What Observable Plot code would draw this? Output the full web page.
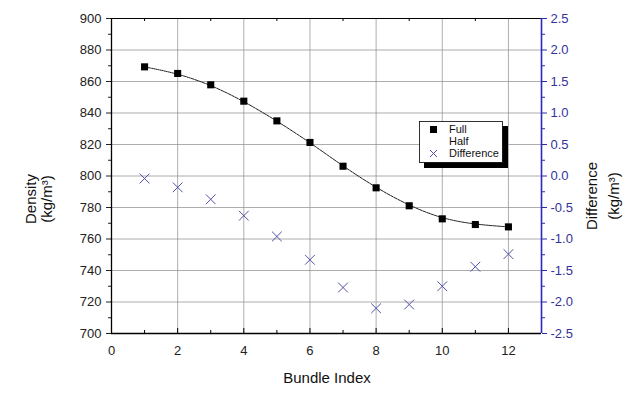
<!DOCTYPE html>
<html>
<head>
<meta charset="utf-8">
<script src="https://cdn.jsdelivr.net/npm/d3@7"></script>
<script src="https://cdn.jsdelivr.net/npm/@observablehq/plot@0.6"></script>
<style>
  html, body { margin: 0; padding: 0; background: #fff; }
  #chart { width: 629px; height: 395px; }
  svg { font-family: "Liberation Sans", Arial, sans-serif; }
</style>
</head>
<body>
<div id="chart"></div>
<script>
// ---- data ----
const bundle = [1, 2, 3, 4, 5, 6, 7, 8, 9, 10, 11, 12];
const full = [869.3, 865.1, 857.9, 847.5, 835.0, 821.3, 806.2, 792.5, 781.1, 772.8, 769.2, 767.7];
const diff = [-0.04, -0.18, -0.37, -0.63, -0.96, -1.33, -1.77, -2.10, -2.04, -1.75, -1.44, -1.24];

const xTicks = [0, 2, 4, 6, 8, 10, 12];
const xMinor = [1, 3, 5, 7, 9, 11];
const yTicks = [700, 720, 740, 760, 780, 800, 820, 840, 860, 880, 900];
const yMinor = [710, 730, 750, 770, 790, 810, 830, 850, 870, 890];
const diffTicks = [-2.5, -2.0, -1.5, -1.0, -0.5, 0.0, 0.5, 1.0, 1.5, 2.0, 2.5];
const diffMinor = [-2.25, -1.75, -1.25, -0.75, -0.25, 0.25, 0.75, 1.25, 1.75, 2.25];

// right axis (Difference, -2.5..2.5) shares the plot with density (700..900)
const toDensity = d => 800 + d * 40;

const fullData = bundle.map((b, i) => ({x: b, y: full[i]}));
const diffData = bundle.map((b, i) => ({x: b, d: diff[i]}));

const blue = "#2a2ab8";
const blueText = "#33339a";

const plot = Plot.plot({
  width: 629,
  height: 395,
  marginLeft: 111,
  marginRight: 88,
  marginTop: 18,
  marginBottom: 62,
  style: {fontFamily: "'Liberation Sans', Arial, sans-serif", background: "#fff"},
  x: {domain: [0, 13], axis: null},
  y: {domain: [700, 900], axis: null},
  marks: [
    // grid
    Plot.ruleX(xTicks.filter(v => v > 0), {x: d => d, stroke: "#8a8a8a", strokeOpacity: 0.7}),
    Plot.ruleY(yTicks.filter(v => v > 700 && v < 900), {y: d => d, stroke: "#8a8a8a", strokeOpacity: 0.7}),
    // bottom axis labels
    Plot.axisX(xTicks, {anchor: "bottom", label: null, tickSize: 0, tickPadding: 12, fontSize: 13, color: "#222"}),
    // bottom & top inward ticks
    Plot.tickX(xTicks, {x: d => d, insetTop: 310, stroke: "#000"}),
    Plot.tickX(xMinor, {x: d => d, insetTop: 312, stroke: "#000"}),
    Plot.tickX(xMinor, {x: d => d, insetBottom: 312, stroke: "#000"}),
    // left axis
    Plot.axisY(yTicks, {anchor: "left", label: null, tickSize: 5, tickPadding: 5, fontSize: 13, color: "#222"}),
    Plot.axisY(yMinor, {anchor: "left", label: null, tickSize: 3, tickFormat: () => "", color: "#222"}),
    // right axis (Difference)
    Plot.axisY(diffTicks.map(toDensity), {anchor: "right", label: null, tickSize: 5, tickPadding: 4, fontSize: 13,
      tickFormat: v => ((v - 800) / 40).toFixed(1), color: blueText, stroke: blue}),
    Plot.axisY(diffMinor.map(toDensity), {anchor: "right", label: null, tickSize: 3, tickFormat: () => "", stroke: blue}),
    // frame
    Plot.ruleY([900], {stroke: "#000"}),
    Plot.ruleY([700], {stroke: "#000", strokeWidth: 1.3}),
    Plot.ruleX([0], {stroke: "#000", strokeWidth: 1.3}),
    Plot.ruleX([13], {stroke: blue, strokeWidth: 1.6}),
    // fitted curve through Full
    Plot.line(fullData, {x: "x", y: "y", curve: "basis", stroke: "#222", strokeWidth: 1, strokeDasharray: "3,1"}),
    // Full points
    Plot.dot(fullData, {x: "x", y: "y", symbol: "square", fill: "#000", r: 4}),
    // Difference points
    Plot.dot(diffData, {x: "x", y: d => toDensity(d.d), symbol: "times", stroke: "#5050a8", strokeWidth: 1, r: 4.5})
  ]
});

document.getElementById("chart").appendChild(plot);

const svg = d3.select(plot);
const font = "'Liberation Sans', Arial, sans-serif";

// axis titles
svg.append("text").attr("x", 327).attr("y", 383).attr("text-anchor", "middle")
  .attr("font-size", 15).attr("font-family", font).attr("fill", "#111").text("Bundle Index");

const leftT = svg.append("g").attr("transform", "translate(36,199) rotate(-90)");
leftT.append("text").attr("text-anchor", "middle").attr("y", 0).attr("font-size", 15)
  .attr("font-family", font).attr("fill", "#111").text("Density");
leftT.append("text").attr("text-anchor", "middle").attr("y", 16).attr("font-size", 15)
  .attr("font-family", font).attr("fill", "#111").text("(kg/m³)");

const rightT = svg.append("g").attr("transform", "translate(597,196) rotate(-90)");
rightT.append("text").attr("text-anchor", "middle").attr("y", 0).attr("font-size", 15)
  .attr("font-family", font).attr("fill", "#111").text("Difference");
rightT.append("text").attr("text-anchor", "middle").attr("y", 22).attr("font-size", 15)
  .attr("font-family", font).attr("fill", "#111").text("(kg/m³)");

// legend
const lg = svg.append("g").attr("text-anchor", "start");
lg.append("rect").attr("x", 424).attr("y", 126).attr("width", 84).attr("height", 42).attr("fill", "#000");
lg.append("rect").attr("x", 419.5).attr("y", 121.5).attr("width", 83).attr("height", 41)
  .attr("fill", "#fff").attr("stroke", "#000").attr("stroke-width", 0.8);
lg.append("rect").attr("x", 430).attr("y", 126).attr("width", 7).attr("height", 7).attr("fill", "#000");
lg.append("path").attr("d", "M430,150L437,157M437,150L430,157").attr("stroke", "#5050a8").attr("stroke-width", 1);
const legendItems = [["Full", 133], ["Half", 145], ["Difference", 157]];
legendItems.forEach(([t, y]) => {
  lg.append("text").attr("x", 449).attr("y", y).attr("text-anchor", "start").attr("font-size", 11)
    .attr("font-family", font).attr("fill", "#111").text(t);
});
</script>
</body>
</html>
